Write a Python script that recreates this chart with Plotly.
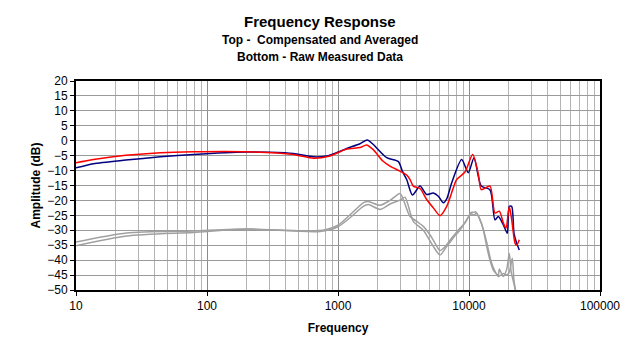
import plotly.graph_objects as go

# ---- Data ----
blue_freq = [10, 13.6, 24, 44, 79, 200, 300, 456, 650, 820, 1000, 1167, 1472, 1675, 1850, 2355, 2889, 3100,
             3344, 3700, 4230, 4750, 5340, 5833, 6368, 6760, 7380, 8790, 9880, 10920, 12400, 14460, 15780,
             16740, 18260, 19600, 20300, 21180, 22060, 23120, 24210]
blue_db = [-9.1, -7.7, -6.5, -5.4, -4.6, -3.8, -3.9, -4.3, -5.4, -5.1, -3.8, -2.6, -1.0, 0.2, -1.2, -5.7, -7.0, -10.2,
           -13.0, -18.2, -15.2, -18.0, -17.5, -18.6, -20.8, -19.5, -14.1, -6.3, -10.7, -5.7, -15.2, -16.4, -26.5,
           -25.4, -28.1, -31.0, -22.0, -22.0, -31.0, -34.3, -36.6]

red_freq = [10, 13.6, 24, 44, 79, 200, 456, 650, 869, 1167, 1472, 1650, 1850, 2200, 2494, 2970, 3344,
            3548, 3758, 4230, 4750, 5340, 6010, 6760, 7590, 8050, 9310, 10670, 11800, 12400, 14460, 15780,
            17030, 18260, 19150, 20300, 21180, 22460, 23120, 24210]
red_db = [-7.4, -6.3, -4.9, -4.0, -3.7, -3.7, -4.6, -5.9, -5.1, -2.8, -2.3, -1.4, -2.9, -6.8, -8.5, -10.2, -11.5,
          -13.0, -15.2, -16.0, -19.7, -22.5, -25.1, -22.0, -15.8, -13.0, -10.5, -4.6, -11.3, -16.4, -15.2, -24.2,
          -23.6, -27.5, -29.3, -22.0, -26.5, -34.3, -35.0, -33.2]

gray1_freq = [10, 24.4, 78.6, 201, 600, 800, 1000, 1236, 1560, 1702, 2094, 2494, 2970, 3151, 3548, 3990,
              4480, 5035, 5497, 6010, 6560, 7380, 8530, 9300, 10400, 10790, 11200, 12000, 12860, 13640,
              14460, 15330, 16740, 17030, 18260, 19410, 20300, 21000, 22060, 22860]
gray1_db = [-33.9, -30.9, -30.2, -29.6, -30.2, -29.8, -28.3, -24.8, -20.8, -20.4, -21.6, -20.0, -17.7, -19.7,
            -25.4, -27.0, -28.7, -31.5, -34.3, -36.8, -35.5, -32.6, -29.3, -27.6, -24.0, -24.0, -23.8, -26.0,
            -29.8, -35.4, -40.0, -43.3, -45.0, -43.0, -45.5, -43.0, -37.7, -44.0, -48.0, -51.0]

gray2_freq = [10, 24.4, 78.6, 201, 729, 1000, 1236, 1560, 1702, 2094, 2494, 2970, 3245, 3400, 3758, 4480,
              5340, 6010, 6500, 7590, 8530, 10400, 10900, 11400, 12400, 13640, 14460, 15330, 16740, 18260,
              19410, 20300, 21400, 22060, 22860]
gray2_db = [-35.2, -31.9, -30.7, -29.6, -30.4, -28.8, -25.8, -22.0, -21.4, -23.0, -21.2, -19.9, -18.9, -21.0,
            -27.0, -30.0, -35.4, -38.3, -36.5, -32.5, -30.0, -24.5, -25.0, -24.2, -27.5, -34.0, -39.0, -42.5,
            -45.5, -44.5, -45.0, -44.0, -39.4, -47.0, -51.0]

x_tick_vals = [10, 100, 1000, 10000, 100000]
x_tick_text = ["10", "100", "1000", "10000", "100000"]
y_tick_vals = list(range(-50, 25, 5))

FONT = "Liberation Sans, Arial, sans-serif"

fig = go.Figure()
for fx, fy, col in [(gray2_freq, gray2_db, "#a0a0a0"), (gray1_freq, gray1_db, "#a0a0a0"),
                    (blue_freq, blue_db, "#000080"), (red_freq, red_db, "#ff0000")]:
    fig.add_trace(go.Scatter(x=fx, y=fy, mode="lines",
                             line=dict(color=col, width=1.5, shape="spline", smoothing=0.7),
                             showlegend=False, hoverinfo="skip"))

# page body has an 8px margin, so the figure origin sits at (8, 8)
fig.update_layout(
    width=640, height=356,
    margin=dict(l=68, r=48, t=73, b=74, autoexpand=False),
    paper_bgcolor="white", plot_bgcolor="white",
    font=dict(family=FONT, size=12, color="black"),
    showlegend=False,
)

fig.update_xaxes(
    type="log", range=[1, 5], automargin=False,
    tickvals=x_tick_vals, ticktext=x_tick_text,
    ticks="outside", ticklen=4, tickcolor="black",
    showgrid=True, gridcolor="#8c8c8c", gridwidth=1,
    minor=dict(showgrid=True, gridcolor="#b4b4b4", gridwidth=1, dtick="D1"),
    showline=True, linecolor="black", linewidth=2, mirror=True,
    zeroline=False,
    tickfont=dict(size=12, family=FONT),
    title=dict(text="<b>Frequency</b>", font=dict(size=12, family=FONT), standoff=11),
)
fig.update_yaxes(
    range=[-50, 20], automargin=False,
    tickvals=y_tick_vals,
    ticks="outside", ticklen=4, tickcolor="black",
    showgrid=True, gridcolor="#9a9a9a", gridwidth=1,
    showline=True, linecolor="black", linewidth=2, mirror=True,
    zeroline=False,
    tickfont=dict(size=12, family=FONT),
    title=dict(text="<b>Amplitude (dB)</b>", font=dict(size=12, family=FONT), standoff=4),
)

cx = (320 - 76) / 524
fig.add_annotation(text="<b>Frequency Response</b>", xref="paper", yref="paper",
                   x=cx, y=(290 - 22) / 209, yanchor="middle", showarrow=False,
                   font=dict(size=15, family=FONT))
fig.add_annotation(text="<b>Top -  Compensated and Averaged</b>", xref="paper", yref="paper",
                   x=cx, y=(290 - 40) / 209, yanchor="middle", showarrow=False,
                   font=dict(size=12, family=FONT))
fig.add_annotation(text="<b>Bottom - Raw Measured Data</b>", xref="paper", yref="paper",
                   x=cx, y=(290 - 57) / 209, yanchor="middle", showarrow=False,
                   font=dict(size=12, family=FONT))

fig.write_html("out.html")
